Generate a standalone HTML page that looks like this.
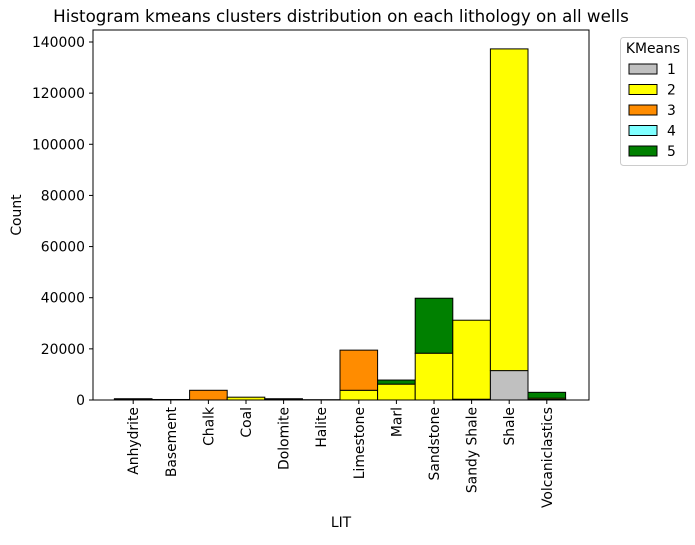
<!DOCTYPE html>
<html><head><meta charset="utf-8"><style>
body{margin:0;background:#fff;font-family:"Liberation Sans","DejaVu Sans",sans-serif}
</style></head><body>
<svg id="c" width="695" height="540" xmlns="http://www.w3.org/2000/svg" font-family="DejaVu Sans, Liberation Sans, sans-serif">
<text x="341" y="22" text-anchor="middle" font-size="16.7">Histogram kmeans clusters distribution on each lithology on all wells</text>
<g id="bars"></g>
<rect x="93" y="30" width="496" height="370" fill="none" stroke="#000" stroke-width="1"/>
<g id="axes"></g>
<text x="341" y="527" text-anchor="middle" font-size="13.9">LIT</text>
<text x="21" y="215" text-anchor="middle" font-size="13.9" transform="rotate(-90 21 215)">Count</text>
<g>
<rect x="620.5" y="37.5" width="67" height="128" rx="3" fill="#fff" stroke="#ccc"/>
<text x="653" y="53" text-anchor="middle" font-size="13.9">KMeans</text>
<g id="leg"></g>
</g>
</svg>
<script>
const categories=["Anhydrite","Basement","Chalk","Coal","Dolomite","Halite","Limestone","Marl","Sandstone","Sandy Shale","Shale","Volcaniclastics"];
const cluster1=[0,0,0,0,0,0,0,0,0,300,11500,200];
const cluster2=[200,100,0,1100,300,50,3800,6200,18300,30900,125800,500];
const cluster3=[0,0,3800,0,0,0,15700,0,0,0,0,0];
const cluster4=[0,0,0,0,0,0,0,0,0,0,0,0];
const cluster5=[300,100,0,0,200,50,0,1600,21500,0,0,2300];
const yTicks=[0,20000,40000,60000,80000,100000,120000,140000];
const clusterNames=["1","2","3","4","5"];
const colors=["#c0c0c0","#ffff00","#ff8c00","#7fffff","#008000"];
const series=[cluster1,cluster2,cluster3,cluster4,cluster5];
const NS="http://www.w3.org/2000/svg";
const y=v=>400-v*(358/140000);
const step=37.6, x0=114.4;
const x=i=>x0+i*step;
const bars=document.getElementById('bars');
categories.forEach((c,i)=>{
  let base=0;
  series.forEach((s,k)=>{
    const v=s[i]; if(v<=0)return;
    const r=document.createElementNS(NS,'rect');
    r.setAttribute('x',x(i));r.setAttribute('width',step);
    r.setAttribute('y',y(base+v));r.setAttribute('height',y(base)-y(base+v));
    r.setAttribute('fill',colors[k]);r.setAttribute('stroke','#000');r.setAttribute('stroke-width','1');
    
    
    bars.appendChild(r);base+=v;
  });
});
const ax=document.getElementById('axes');
yTicks.forEach(t=>{
  const l=document.createElementNS(NS,'line');
  l.setAttribute('x1',89);l.setAttribute('x2',93);l.setAttribute('y1',y(t));l.setAttribute('y2',y(t));l.setAttribute('stroke','#000');
  
  
  ax.appendChild(l);
  const tx=document.createElementNS(NS,'text');
  tx.setAttribute('x',85);tx.setAttribute('y',y(t)+5);tx.setAttribute('text-anchor','end');tx.setAttribute('font-size','13.9');
  tx.textContent=t;
  
  
  ax.appendChild(tx);
});
categories.forEach((c,i)=>{
  const cx=x(i)+step/2;
  const l=document.createElementNS(NS,'line');
  l.setAttribute('x1',cx);l.setAttribute('x2',cx);l.setAttribute('y1',400);l.setAttribute('y2',404);l.setAttribute('stroke','#000');
  
  
  ax.appendChild(l);
  const tx=document.createElementNS(NS,'text');
  tx.setAttribute('x',cx+5);tx.setAttribute('y',407);tx.setAttribute('text-anchor','end');tx.setAttribute('font-size','13.9');
  tx.setAttribute('transform','rotate(-90 '+(cx+5)+' 407)');
  tx.textContent=c;
  
  
  ax.appendChild(tx);
});
const leg=document.getElementById('leg');
clusterNames.forEach((n,k)=>{
  const yy=64+k*20.5;
  const r=document.createElementNS(NS,'rect');
  r.setAttribute('x',629);r.setAttribute('y',yy);r.setAttribute('width',28);r.setAttribute('height',10);
  r.setAttribute('fill',colors[k]);r.setAttribute('stroke','#000');
  
  
  leg.appendChild(r);
  const t=document.createElementNS(NS,'text');
  t.setAttribute('x',667);t.setAttribute('y',yy+10);t.setAttribute('font-size','13.9');t.textContent=n;
  
  
  leg.appendChild(t);
});
</script>
</body></html>
